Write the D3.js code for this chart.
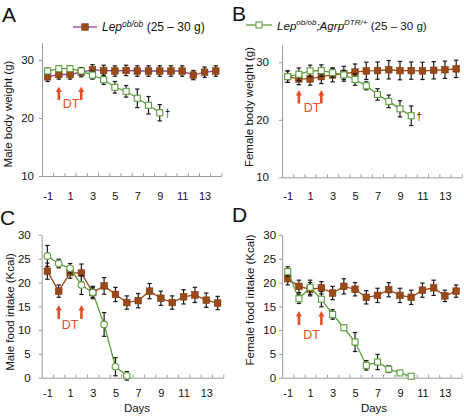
<!DOCTYPE html>
<html><head><meta charset="utf-8">
<script src="https://cdn.jsdelivr.net/npm/d3@7"></script>
<style>
body{margin:0;background:#fff;}
svg{display:block;font-family:"Liberation Sans",Arial,sans-serif;}
</style></head>
<body><svg id="c" width="464" height="416"></svg>
<script>
const days = [-1,0,1,2,3,4,5,6,7,8,9,10,11,12,13,14];
const xTickLabels = [-1,1,3,5,7,9,11,13];

const maleWeightLep = [27.1,27.5,27.5,27.9,28.3,28.2,28.1,28.2,28.1,28.1,28.1,28.1,28.1,27.4,27.9,28.1];
const maleWeightLepErr = [0.8,0.8,0.8,0.8,0.9,0.9,0.9,0.9,0.9,0.9,0.9,0.9,0.9,0.8,0.9,0.9];
const maleWeightDTR = [28.1,28.5,28.5,28.1,27.4,26.6,25.3,24.6,23.4,22.2,20.9];
const maleWeightDTRErr = [0.5,0.5,0.5,0.6,0.7,0.8,1.0,1.0,1.6,1.5,1.4];

const femaleWeightLep = [27.5,27.1,27.1,27.5,27.8,28.0,28.3,28.5,28.55,28.7,28.55,28.55,28.5,28.6,28.7,28.85];
const femaleWeightLepErr = [1.0,1.0,1.1,1.2,1.2,1.3,1.4,1.5,1.5,1.6,1.6,1.5,1.5,1.5,1.5,1.5];
const femaleWeightDTR = [27.5,27.9,28.5,28.55,28.2,27.8,27.0,25.9,24.4,23.2,21.9,20.7];
const femaleWeightDTRErr = [1.0,1.1,1.0,1.0,0.8,0.8,1.0,0.7,1.0,1.1,1.4,1.7];

const maleFoodLep = [22.4,18.2,22.1,22.0,17.9,19.3,17.5,15.8,16.2,18.2,16.7,15.8,17.0,17.4,16.3,15.7];
const maleFoodLepErr = [1.7,1.3,1.2,1.9,1.0,1.75,1.5,1.4,1.5,1.6,1.5,1.4,1.5,1.6,1.5,1.4];
const maleFoodDTR = [25.6,24.0,23.0,19.5,17.9,11.2,2.3,0.4];
const maleFoodDTRErr = [2.2,0.9,1.0,2.0,1.3,2.5,1.9,0.9];

const femaleFoodLep = [20.8,19.2,18.6,18.9,17.8,19.2,18.6,16.9,17.3,18.5,17.3,16.9,18.4,18.9,17.2,18.2];
const femaleFoodLepErr = [1.3,1.3,1.4,1.3,1.4,1.6,1.4,1.4,1.5,1.5,1.5,1.5,1.5,1.6,1.2,1.3];
const femaleFoodDTR = [22.3,16.6,19.0,16.5,13.3,10.5,7.5,2.6,3.3,1.8,1.0,0.3];
const femaleFoodDTRErr = [1.0,1.0,1.5,1.6,1.0,0.5,2.0,1.0,1.6,0.7,0.3,0];

const weightTicks = [10,20,30];
const foodTicks = [0,5,10,15,20,25,30];
const dtDays = [0,2];

const BROWN = "#9b4a17", PURPLE = "#8a4a96", GREEN = "#5c9e3c", RED = "#e2502a", AXIS = "#9a9a9a";

const svg = d3.select("#c");

const panels = [
  {letter:"A", lx:2, ly:22, x0:42, x1:221.4, yDomain:[10,33], yRange:[176,42.6], yTicks:weightTicks,
   ytitle:"Male body weight (g)", tx:8, ty:114, xlabOff:22, ylabPad:5,
   lep:maleWeightLep, lepErr:maleWeightLepErr, dtr:maleWeightDTR, dtrErr:maleWeightDTRErr,
   lepLine:PURPLE, marker:"square", arrowY:[86.5,100], dtPos:[71,108], dagger:true},
  {letter:"B", lx:232, ly:21, x0:282, x1:461.8, yDomain:[10,33], yRange:[177.3,45], yTicks:weightTicks,
   ytitle:"Female body weight (g)", tx:249, ty:107, xlabOff:21, ylabPad:10,
   lep:femaleWeightLep, lepErr:femaleWeightLepErr, dtr:femaleWeightDTR, dtrErr:femaleWeightDTRErr,
   lepLine:BROWN, marker:"square", arrowY:[90,103.5], dtPos:[312,112], dagger:true},
  {letter:"C", lx:0, ly:225, x0:41.7, x1:223.3, yDomain:[0,30], yRange:[377.7,235], yTicks:foodTicks,
   ytitle:"Male food intake (Kcal)", tx:10, ty:312, xlabOff:17.5, ylabPad:8,
   lep:maleFoodLep, lepErr:maleFoodLepErr, dtr:maleFoodDTR, dtrErr:maleFoodDTRErr,
   lepLine:BROWN, marker:"circle", arrowY:[305,319], dtPos:[70,328.5], dagger:false, daysLabel:[137,412]},
  {letter:"D", lx:232, ly:222, x0:282.1, x1:461.7, yDomain:[0,30], yRange:[377.7,235], yTicks:foodTicks,
   ytitle:"Female food intake (Kcal)", tx:250, ty:300, xlabOff:17.5, ylabPad:3,
   lep:femaleFoodLep, lepErr:femaleFoodLepErr, dtr:femaleFoodDTR, dtrErr:femaleFoodDTRErr,
   lepLine:BROWN, marker:"square", arrowY:[311,325], dtPos:[311.5,338.5], dagger:false, daysLabel:[374,412]}
];

panels.forEach(p => {
  const g = svg.append("g");
  const x = d3.scaleLinear().domain([-1.5,14.5]).range([p.x0,p.x1]);
  const y = d3.scaleLinear().domain(p.yDomain).range(p.yRange);
  const yBase = p.yRange[0];

  svg.append("text").attr("x",p.lx).attr("y",p.ly).attr("font-size",21).attr("fill","#111").text(p.letter);

  const xTicksAxis = g.append("g").attr("transform",`translate(0,${yBase})`)
    .call(d3.axisBottom(x).tickValues(d3.range(-0.5,14.6,1)).tickSize(-3).tickSizeOuter(0).tickFormat(""));
  xTicksAxis.selectAll("path,line").attr("stroke",AXIS);
  const xLab = g.append("g").attr("transform",`translate(0,${yBase})`)
    .call(d3.axisBottom(x).tickValues(xTickLabels).tickSize(0).tickPadding(p.xlabOff-6).tickFormat(d=>String(d)));
  xLab.select(".domain").remove();
  xLab.selectAll("text").attr("font-size",11).attr("fill","#111").attr("font-family","Liberation Sans, Arial, sans-serif");

  const yAx = g.append("g").attr("transform",`translate(${p.x0},0)`)
    .call(d3.axisLeft(y).tickValues(p.yTicks).tickSize(3).tickSizeOuter(0).tickPadding(p.ylabPad));
  yAx.selectAll("path,line").attr("stroke",AXIS);
  yAx.selectAll("text").attr("font-size",11.5).attr("fill","#111").attr("font-family","Liberation Sans, Arial, sans-serif");

  g.append("text").attr("transform",`translate(${p.tx},${p.ty}) rotate(-90)`)
    .attr("text-anchor","middle").attr("dominant-baseline","central")
    .attr("font-size",11.5).attr("fill","#111").text(p.ytitle);

  if (p.daysLabel) {
    g.append("text").attr("x",p.daysLabel[0]).attr("y",p.daysLabel[1]).attr("text-anchor","middle")
      .attr("font-size",11.5).attr("fill","#111").text("Days");
  }

  function drawSeries(vals, errs, lineColor, markerType, filled, mColor) {
    const pts = vals.map((v,i)=>({d:days[i], v, e:errs[i]}));
    g.append("path").datum(pts).attr("fill","none").attr("stroke",lineColor).attr("stroke-width",1.3)
      .attr("d", d3.line().x(d=>x(d.d)).y(d=>y(d.v)));
    const eb = g.append("g").attr("stroke","#1a1a1a").attr("stroke-width",1.2);
    pts.filter(d=>d.e>0).forEach(d=>{
      const cx = x(d.d);
      eb.append("line").attr("x1",cx).attr("x2",cx).attr("y1",y(d.v-d.e)).attr("y2",y(d.v+d.e));
      eb.append("line").attr("x1",cx-2.2).attr("x2",cx+2.2).attr("y1",y(d.v+d.e)).attr("y2",y(d.v+d.e));
      eb.append("line").attr("x1",cx-2.2).attr("x2",cx+2.2).attr("y1",y(d.v-d.e)).attr("y2",y(d.v-d.e));
    });
    const mg = g.append("g");
    if (markerType==="circle") {
      mg.selectAll("circle").data(pts).join("circle").attr("cx",d=>x(d.d)).attr("cy",d=>y(d.v)).attr("r",3.3)
        .attr("fill",filled?mColor:"#fff").attr("stroke",mColor).attr("stroke-width",1.1);
    } else {
      const s = filled ? 6.6 : 6;
      mg.selectAll("rect").data(pts).join("rect").attr("x",d=>x(d.d)-s/2).attr("y",d=>y(d.v)-s/2)
        .attr("width",s).attr("height",s)
        .attr("fill",filled?mColor:"#fff").attr("stroke",filled?"#7e3a10":mColor).attr("stroke-width",filled?0.6:1.1);
    }
    return pts;
  }

  drawSeries(p.lep, p.lepErr, p.lepLine, "square", true, BROWN);
  const gp = drawSeries(p.dtr, p.dtrErr, GREEN, p.marker, false, GREEN);

  if (p.dagger) {
    const last = gp[gp.length-1];
    g.append("text").attr("x",x(last.d)+5).attr("y",y(last.v)+4).attr("font-size",10).attr("fill","#111").text("†");
  }

  dtDays.forEach(dd=>{
    const cx = x(dd), top = p.arrowY[0], bot = p.arrowY[1];
    g.append("path").attr("fill",RED)
      .attr("d",`M${cx},${top} L${cx+3},${top+5.5} L${cx+1.3},${top+5.5} L${cx+1.3},${bot} L${cx-1.3},${bot} L${cx-1.3},${top+5.5} L${cx-3},${top+5.5} Z`);
  });
  g.append("text").attr("x",p.dtPos[0]).attr("y",p.dtPos[1]).attr("text-anchor","middle")
    .attr("font-size",12.5).attr("fill",RED).text("DT");
});

const leg1 = svg.append("g");
leg1.append("line").attr("x1",73).attr("x2",97).attr("y1",27).attr("y2",27).attr("stroke",PURPLE).attr("stroke-width",1.3);
leg1.append("rect").attr("x",85-3.3).attr("y",27-3.3).attr("width",6.6).attr("height",6.6).attr("fill",BROWN).attr("stroke","#7e3a10").attr("stroke-width",0.6);
const t1 = leg1.append("text").attr("x",102).attr("y",31).attr("font-size",12).attr("fill","#111");
t1.append("tspan").attr("font-style","italic").text("Lep");
t1.append("tspan").attr("font-style","italic").attr("font-size",8.5).attr("dy",-4.5).text("ob/ob");
t1.append("tspan").attr("dy",4.5).text(" (25 \u2013 30 g)");

const leg2 = svg.append("g");
leg2.append("line").attr("x1",246).attr("x2",272).attr("y1",25).attr("y2",25).attr("stroke",GREEN).attr("stroke-width",1.3);
leg2.append("rect").attr("x",259-3).attr("y",25-3).attr("width",6).attr("height",6).attr("fill","#fff").attr("stroke",GREEN).attr("stroke-width",1.1);
const t2 = leg2.append("text").attr("x",277).attr("y",29.5).attr("font-size",11.6).attr("fill","#111");
t2.append("tspan").attr("font-style","italic").text("Lep");
t2.append("tspan").attr("font-style","italic").attr("font-size",8).attr("dy",-4.5).text("ob/ob");
t2.append("tspan").attr("font-style","italic").attr("dy",4.5).text(";Agrp");
t2.append("tspan").attr("font-style","italic").attr("font-size",8).attr("dy",-4.5).text("DTR/+");
t2.append("tspan").attr("dy",4.5).text(" (25 \u2013 30 g)");
</script></body></html>
